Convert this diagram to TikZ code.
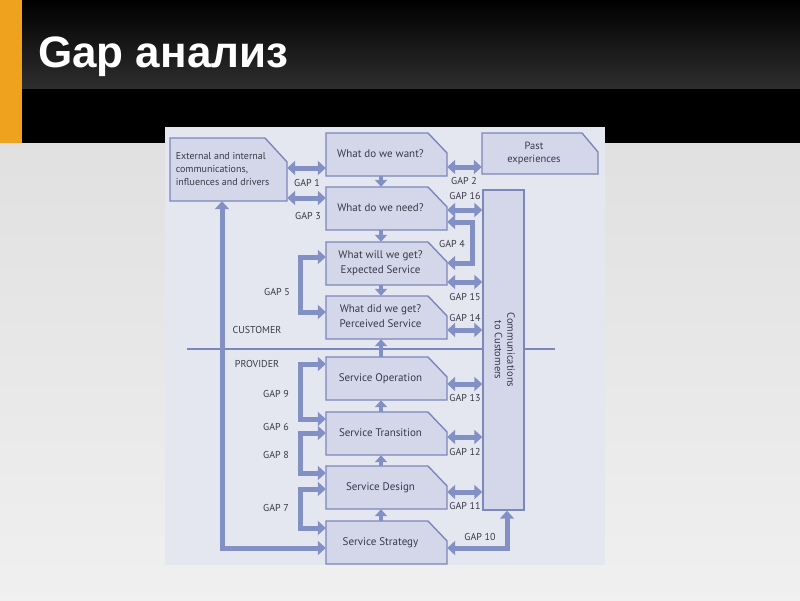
\documentclass[tikz,border=0pt]{standalone}
\usepackage{fontspec}
\usepackage{graphicx}
\setmainfont{PT Sans}
\newfontfamily\titlefont{Liberation Sans}
\usetikzlibrary{arrows.meta}
\usetikzlibrary{positioning}

\definecolor{barorange}{HTML}{EFA21E}
\definecolor{paper}{HTML}{E4E6F0}
\definecolor{boxfill}{HTML}{D4D7EA}
\definecolor{boxline}{HTML}{7C87BC}
\definecolor{gapblue}{HTML}{8390C5}
\definecolor{inktext}{HTML}{3A3A46}

% text of a box, set without size so that the box keeps its own
\newcommand{\boxlines}[2][c]{\raisebox{-2.5pt}[0pt][0pt]{\makebox[0pt]{\hspace{-12pt}\begin{tabular}{@{}#1@{}}#2\end{tabular}}}}

\begin{document}
\begin{tikzpicture}[x=1pt,y=-1pt,
  stageline/.style={draw=boxline,fill=boxfill,line width=1.4pt,line join=miter},
  stagebox/.style={rectangle,inner sep=0pt,minimum width=121pt,minimum height=43pt,
    font=\fontsize{11}{14.5}\selectfont,text=inktext},
  gaptext/.style={font=\fontsize{10}{12}\selectfont,text=inktext,inner sep=0pt},
  gapboth/.style={draw=gapblue,line width=5pt,
    {Triangle[width=14pt,length=8pt]}-{Triangle[width=14pt,length=8pt]}},
  stepflow/.style={draw=gapblue,line width=4pt,-{Triangle[width=12pt,length=7pt]}}]
\useasboundingbox (0,0) rectangle (800,600);
% slide
\shade[top color=white!88!black,bottom color=white!94!black] (0,143) rectangle (800,600);
\fill[black] (0,88) rectangle (800,143);
\shade[top color=black,bottom color=black!82] (0,0) rectangle (800,88);
\fill[barorange] (0,0) rectangle (22,143);
\node[anchor=base west,inner sep=0pt,text=white,font=\titlefont\bfseries\fontsize{44}{50}\selectfont] (title) at (38,67) {Gap анализ};

% diagram
\fill[paper] (165,127) rectangle (605,565);
\draw[boxline,line width=1.5pt] (187,349) -- (555,349);

% box outlines, cut at the top right
\filldraw[stageline] (170,138) -- (265,138) -- (287,162) -- (287,201) -- (170,201) -- cycle;
\filldraw[stageline] (482,133) -- (582,133) -- (598,152) -- (598,174) -- (482,174) -- cycle;
\foreach \t in {133,187,242,296,357,412,466,521}
  \filldraw[stageline] (326,\t) -- (428,\t) -- (447,\t+20) -- (447,\t+43) -- (326,\t+43) -- cycle;

\node[stagebox,minimum width=117pt,minimum height=63pt,font=\fontsize{10}{13}\selectfont] (drivers) at (228.5,169.5)
  {\boxlines[l]{External and internal\\communications,\\influences and drivers}};
\node[stagebox,minimum width=116pt,minimum height=41pt,font=\fontsize{10.5}{12.5}\selectfont] (past) at (540,153.5)
  {\boxlines{Past\\experiences}};
\node[stagebox] (want) at (386.5,154.5) {\boxlines{What do we want?}};
\node[stagebox] (need) at (386.5,208.5) {\boxlines{What do we need?}};
\node[stagebox] (expect) at (386.5,263.5) {\boxlines{What will we get?\\Expected Service}};
\node[stagebox] (perceive) at (386.5,317.5) {\boxlines{What did we get?\\Perceived Service}};
\node[stagebox] (operation) at (386.5,378.5) {\boxlines{Service Operation}};
\node[stagebox] (transition) at (386.5,433.5) {\boxlines{Service Transition}};
\node[stagebox] (design) at (386.5,487.5) {\boxlines{Service Design}};
\node[stagebox] (strategy) at (386.5,542.5) {\boxlines{Service Strategy}};
\node[rectangle,draw=boxline,fill=boxfill,line width=1.4pt,inner sep=0pt,minimum width=41pt,minimum height=320pt,
  font=\fontsize{10.5}{12.5}\selectfont,text=inktext] (comm) at (503.5,350)
  {\rotatebox{-90}{\begin{tabular}{@{}c@{}}Communications\\to Customers\end{tabular}}};

\node[gaptext] (customer) at (257,330) {CUSTOMER};
\node[gaptext] (provider) at (257,364) {PROVIDER};

% steps between stages
\draw[stepflow] (want.south -| 381,0) -- (need.north -| 381,0);
\draw[stepflow] (need.south -| 381,0) -- (expect.north -| 381,0);
\draw[stepflow] (expect.south -| 381,0) -- (perceive.north -| 381,0);
\draw[stepflow] (operation.north -| 381,0) -- (perceive.south -| 381,0);
\draw[stepflow] (transition.north -| 381,0) -- (operation.south -| 381,0);
\draw[stepflow] (design.north -| 381,0) -- (transition.south -| 381,0);
\draw[stepflow] (strategy.north -| 381,0) -- (design.south -| 381,0);

% gaps
\draw[gapboth] (drivers.east |- 0,168) -- (want.west |- 0,168);
\draw[gapboth] (drivers.east |- 0,198) -- (need.west |- 0,198);
\draw[gapboth] (want.east |- 0,167) -- (past.west |- 0,167);
\draw[gapboth] (need.east |- 0,210) -- (comm.west |- 0,210);
\draw[gapboth] (need.east |- 0,222) -- (472,222) -- (472,263) -- (expect.east |- 0,263);
\draw[gapboth] (expect.east |- 0,282) -- (comm.west |- 0,282);
\draw[gapboth] (perceive.east |- 0,330) -- (comm.west |- 0,330);
\draw[gapboth] (expect.west |- 0,257) -- (300,257) -- (300,312) -- (perceive.west |- 0,312);
\draw[gapboth] (operation.west |- 0,364) -- (300,364) -- (300,419) -- (transition.west |- 0,419);
\draw[gapboth] (transition.west |- 0,433) -- (300,433) -- (300,473) -- (design.west |- 0,473);
\draw[gapboth] (design.west |- 0,489) -- (300,489) -- (300,528) -- (strategy.west |- 0,528);
\draw[gapboth] (strategy.west |- 0,548) -- (222,548) -- (drivers.south -| 222,0);
\draw[gapboth] (operation.east |- 0,384) -- (comm.west |- 0,384);
\draw[gapboth] (transition.east |- 0,437) -- (comm.west |- 0,437);
\draw[gapboth] (design.east |- 0,492) -- (comm.west |- 0,492);
\draw[gapboth] (comm.south -| 507,0) -- (507,548) -- (strategy.east |- 0,548);

\node[gaptext] (gap1) at (307,183) {GAP 1};
\node[gaptext] (gap3) at (308,216) {GAP 3};
\node[gaptext] (gap2) at (464,181) {GAP 2};
\node[gaptext] (gap16) at (465,196) {GAP 16};
\node[gaptext] (gap4) at (452,244) {GAP 4};
\node[gaptext] (gap15) at (465,297) {GAP 15};
\node[gaptext] (gap14) at (465,318) {GAP 14};
\node[gaptext] (gap5) at (277,292) {GAP 5};
\node[gaptext] (gap9) at (276,394) {GAP 9};
\node[gaptext] (gap6) at (276,427) {GAP 6};
\node[gaptext] (gap8) at (276,455) {GAP 8};
\node[gaptext] (gap7) at (276,508) {GAP 7};
\node[gaptext] (gap13) at (465,398) {GAP 13};
\node[gaptext] (gap12) at (465,452) {GAP 12};
\node[gaptext] (gap11) at (465,506) {GAP 11};
\node[gaptext] (gap10) at (480,537) {GAP 10};
\end{tikzpicture}
\end{document}
